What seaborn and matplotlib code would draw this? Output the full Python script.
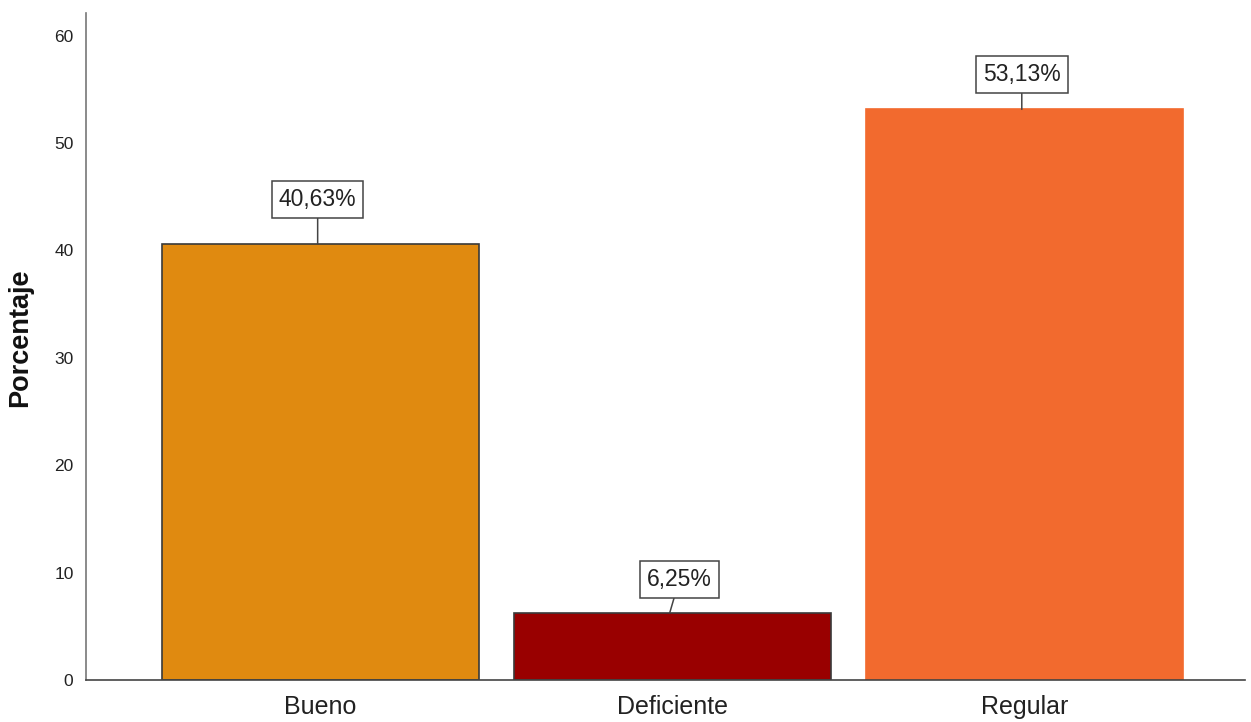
import matplotlib

matplotlib.use("Agg")

import matplotlib.pyplot as plt
import pandas as pd
import seaborn as sns

categories = ["Bueno", "Deficiente", "Regular"]
percentages = [40.63, 6.25, 53.13]
bar_colors = ["#E08A10", "#990000", "#F26A2E"]
edge_colors = ["#3A3A3A", "#3A3A3A", "#F26A2E"]
label_texts = ["40,63%", "6,25%", "53,13%"]
y_ticks = [0, 10, 20, 30, 40, 50, 60]

sns.set_theme(style="white")
plt.rcParams["font.family"] = ["Liberation Sans", "DejaVu Sans"]

df = pd.DataFrame({"categoria": categories, "porcentaje": percentages})

fig = plt.figure(figsize=(12.51, 7.22), dpi=100)
ax = fig.add_axes([86 / 1251, 1 - 680 / 722, (1245 - 86) / 1251, (680 - 13) / 722])

sns.barplot(data=df, x="categoria", y="porcentaje", hue="categoria",
            palette=dict(zip(categories, bar_colors)), order=categories,
            width=0.9, saturation=1, legend=False, ax=ax)

for patch, ec in zip(ax.patches, edge_colors):
    patch.set_edgecolor(ec)
    patch.set_linewidth(1.2)

# SPSS-style boxed value labels with a short leader line (offsets in points)
label_offset = {"Bueno": (0, 32), "Deficiente": (7, 24), "Regular": (0, 25)}
for i, (cat, val, txt) in enumerate(zip(categories, percentages, label_texts)):
    ax.annotate(txt, xy=(i - 0.008, val), xytext=label_offset[cat],
                textcoords="offset points", ha="center", va="center",
                fontsize=16.5, color="#222222",
                bbox=dict(boxstyle="square,pad=0.3", fc="white", ec="#444444", lw=1.1),
                arrowprops=dict(arrowstyle="-", color="#444444", lw=1.1,
                                shrinkA=0, shrinkB=0))

ax.set_xlim(-0.666, 2.626)
ax.set_ylim(0, 62.1)
ax.set_yticks(y_ticks)
ax.set_yticklabels([str(t) for t in y_ticks], fontsize=12.5, color="#222222")
ax.tick_params(axis="x", labelsize=18, colors="#222222", length=0, pad=11)
ax.tick_params(axis="y", length=0, pad=9)
ax.set_xlabel("")
ax.set_ylabel("Porcentaje", fontsize=19.5, fontweight="bold", color="#111111", labelpad=15)
ax.yaxis.label.set_y(0.513)

sns.despine(ax=ax)
ax.spines["left"].set_color("#777777")
ax.spines["bottom"].set_color("#444444")
ax.spines["left"].set_linewidth(1.2)
ax.spines["bottom"].set_linewidth(1.2)

fig.savefig("out.png", dpi=100)
